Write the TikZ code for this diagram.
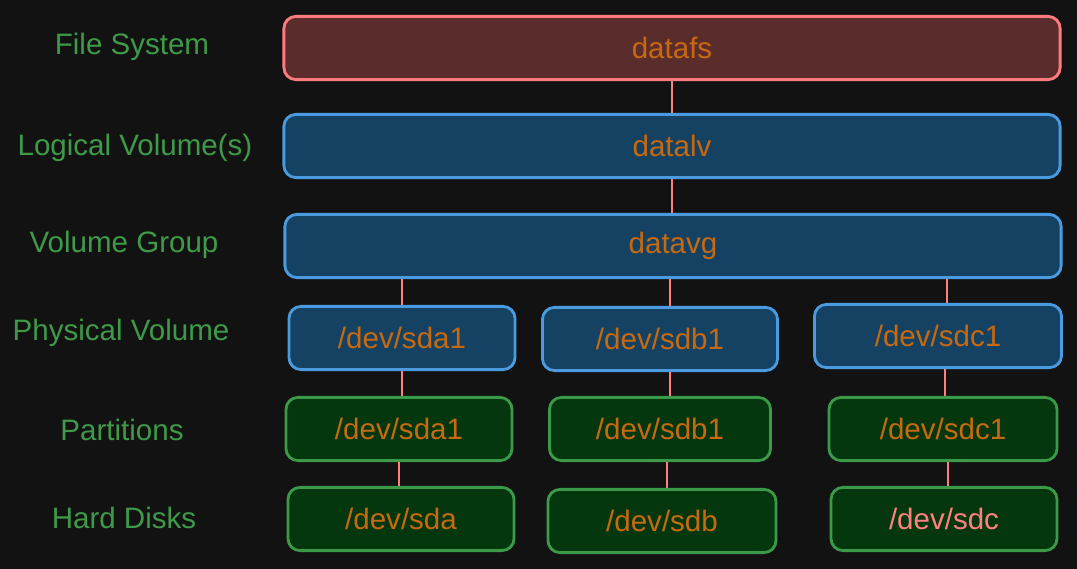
\documentclass[tikz,border=0pt]{standalone}
\usepackage{fontspec}
\setmainfont{Liberation Sans}
\definecolor{bgdark}{HTML}{121212}
\definecolor{fsfill}{HTML}{5B2C2C}
\definecolor{fsline}{HTML}{FF7B7F}
\definecolor{lvfill}{HTML}{154262}
\definecolor{lvline}{HTML}{4A9BE0}
\definecolor{hdfill}{HTML}{04370E}
\definecolor{hdline}{HTML}{3A9A48}
\definecolor{nametext}{HTML}{C7690F}
\definecolor{layertext}{HTML}{3E9A48}
\definecolor{linkline}{HTML}{FF8080}
\tikzset{
  layerbox/.style={rounded corners=0.3cm, line width=2pt, minimum height=1.58cm,
    text=nametext, font=\fontsize{21}{24}\selectfont},
  fsbox/.style={layerbox, draw=fsline, fill=fsfill},
  lvbox/.style={layerbox, draw=lvline, fill=lvfill},
  hdbox/.style={layerbox, draw=hdline, fill=hdfill},
  layername/.style={text=layertext, font=\fontsize{21}{24}\selectfont},
  link/.style={draw=linkline, line width=2pt}
}
\begin{document}
\begin{tikzpicture}[x=0.025cm, y=-0.025cm]

    % Background
    \fill[bgdark] (0,0) rectangle (1077,569);

    % Layer names on the left
    \node[layername] (nfs) at (132,47) {File System};
    \node[layername] (nlv) at (135,148) {Logical Volume(s)};
    \node[layername] (nvg) at (124,245) {Volume Group};
    \node[layername] (npv) at (121,333) {Physical Volume};
    \node[layername] (npt) at (122,430) {Partitions};
    \node[layername] (nhd) at (124,518) {Hard Disks};

    % File system, logical volume, volume group
    \node[fsbox, minimum width=19.4cm] (datafs) at (672,48) {datafs};
    \node[lvbox, minimum width=19.4cm] (datalv) at (672,146) {datalv};
    \node[lvbox, minimum width=19.4cm] (datavg) at (673,246) {datavg};

    % Physical volumes
    \node[lvbox, minimum width=5.65cm] (pva) at (402,338) {/dev/sda1};
    \node[lvbox, minimum width=5.875cm] (pvb) at (660,339) {/dev/sdb1};
    \node[lvbox, minimum width=6.175cm] (pvc) at (938,336) {/dev/sdc1};

    % Partitions
    \node[hdbox, minimum width=5.65cm] (pta) at (399,429) {/dev/sda1};
    \node[hdbox, minimum width=5.525cm] (ptb) at (660,429) {/dev/sdb1};
    \node[hdbox, minimum width=5.7cm] (ptc) at (943,429) {/dev/sdc1};

    % Hard disks
    \node[hdbox, minimum width=5.65cm] (hda) at (401,519) {/dev/sda};
    \node[hdbox, minimum width=5.7cm] (hdb) at (662,521) {/dev/sdb};
    \node[hdbox, minimum width=5.65cm, text=linkline] (hdc) at (944,519) {/dev/sdc};

    % Links between the layers
    \draw[link] (datafs.south) -- (datalv.north);
    \draw[link] (datalv.south) -- (datalv.south |- datavg.north);
    \draw[link] (datavg.south -| pva) -- (pva.north);
    \draw[link] (datavg.south -| 670,0) -- (670,0 |- pvb.north);
    \draw[link] (datavg.south -| 947,0) -- (947,0 |- pvc.north);
    \draw[link] (pva.south) -- (pva.south |- pta.north);
    \draw[link] (670,0 |- pvb.south) -- (670,0 |- ptb.north);
    \draw[link] (945,0 |- pvc.south) -- (945,0 |- ptc.north);
    \draw[link] (pta.south) -- (pta.south |- hda.north);
    \draw[link] (667,0 |- ptb.south) -- (667,0 |- hdb.north);
    \draw[link] (948,0 |- ptc.south) -- (948,0 |- hdc.north);

\end{tikzpicture}
\end{document}
